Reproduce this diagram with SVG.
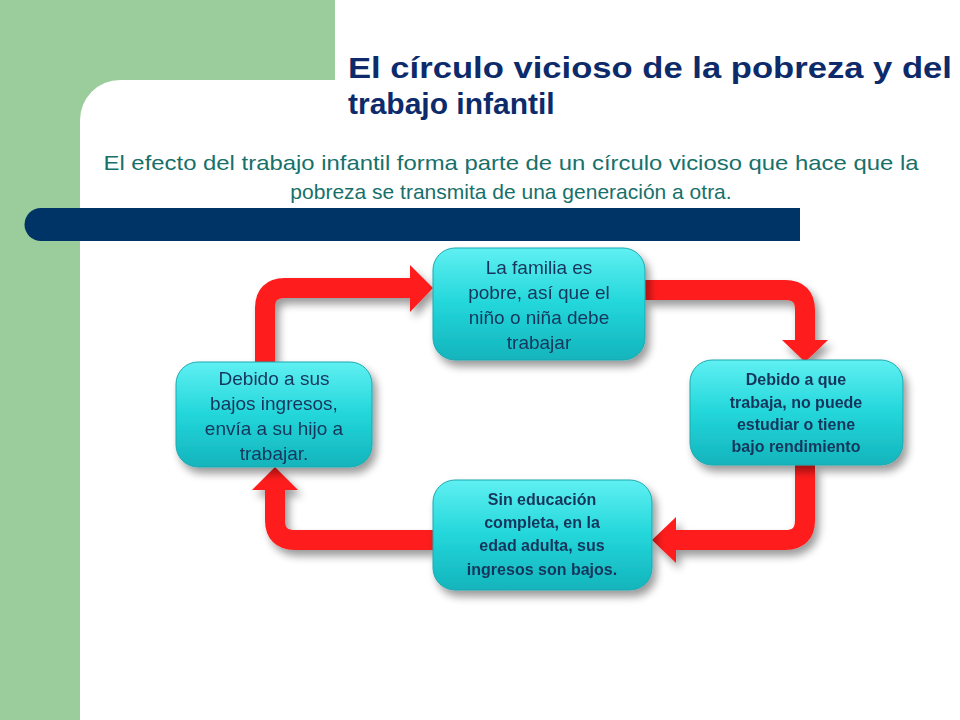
<svg xmlns="http://www.w3.org/2000/svg" width="960" height="720" viewBox="0 0 960 720">
<defs>
<linearGradient id="cy" x1="0" y1="0" x2="0" y2="1"><stop offset="0" stop-color="#5ff0f2"/><stop offset="0.5" stop-color="#22d6da"/><stop offset="1" stop-color="#14b4bc"/></linearGradient>
<filter id="sh" x="-20%" y="-20%" width="150%" height="150%"><feGaussianBlur in="SourceAlpha" stdDeviation="4"/><feOffset dx="4" dy="6"/><feComponentTransfer><feFuncA type="linear" slope="0.4"/></feComponentTransfer><feMerge><feMergeNode/><feMergeNode in="SourceGraphic"/></feMerge></filter>
</defs>
<style>
.box{fill:url(#cy);stroke:#1aa9b0;stroke-width:1}
.t{font-family:"Liberation Sans",Arial,sans-serif;fill:#16365c;text-anchor:middle}
.r{font-size:19px}
.b{font-size:16px;font-weight:bold}
.ar{fill:none;stroke:#ff1a1a;stroke-width:20;stroke-linejoin:round}
.hd{fill:#ff1a1a}
</style>
<rect width="960" height="720" fill="#ffffff"/>
<rect x="0" y="0" width="80" height="720" fill="#9bcc9b"/>
<rect x="0" y="0" width="335" height="80" fill="#9bcc9b"/>
<path d="M80,80 L120,80 A40,40 0 0 0 80,120 Z" fill="#9bcc9b"/>
<text x="348" y="78" font-family="Liberation Sans,Arial,sans-serif" font-weight="bold" font-size="30" fill="#0d2b6b" textLength="604" lengthAdjust="spacingAndGlyphs">El círculo vicioso de la pobreza y del</text>
<text x="348" y="114" font-family="Liberation Sans,Arial,sans-serif" font-weight="bold" font-size="30" fill="#0d2b6b">trabajo infantil</text>
<text x="511" y="170" font-family="Liberation Sans,Arial,sans-serif" font-size="21" fill="#17706a" text-anchor="middle" textLength="815" lengthAdjust="spacingAndGlyphs">El efecto del trabajo infantil forma parte de un círculo vicioso que hace que la</text>
<text x="511" y="199" font-family="Liberation Sans,Arial,sans-serif" font-size="21" fill="#17706a" text-anchor="middle">pobreza se transmita de una generación a otra.</text>
<path d="M41,208 L800,208 L800,241 L41,241 A16.5,16.5 0 0 1 41,208 Z" fill="#003366"/>
<g id="connectors" filter="url(#sh)">
<path class="ar" d="M265,362 L265,308 Q265,288 285,288 L412,288"/>
<polygon class="hd" points="410,265 433,288 410,312"/>
<path class="ar" d="M645,290 L785,290 Q805,290 805,310 L805,342"/>
<polygon class="hd" points="782,340 805,362 828,340"/>
<path class="ar" d="M805,465 L805,520 Q805,540 785,540 L674,540"/>
<polygon class="hd" points="676,517 652,540 676,563"/>
<path class="ar" d="M433,540 L295,540 Q275,540 275,520 L275,488"/>
<polygon class="hd" points="252,490 275,467 298,490"/>
</g>
<g id="n1" filter="url(#sh)"><rect class="box" x="433" y="248" width="212" height="112" rx="22"/>
<text class="t r" x="539" y="274">La familia es</text><text class="t r" x="539" y="299">pobre, así que el</text><text class="t r" x="539" y="324">niño o niña debe</text><text class="t r" x="539" y="349">trabajar</text></g>
<g id="n2" filter="url(#sh)"><rect class="box" x="690" y="360" width="213" height="105" rx="22"/>
<text class="t b" x="796" y="385">Debido a que</text><text class="t b" x="796" y="408">trabaja, no puede</text><text class="t b" x="796" y="430">estudiar o tiene</text><text class="t b" x="796" y="452">bajo rendimiento</text></g>
<g id="n3" filter="url(#sh)"><rect class="box" x="433" y="480" width="219" height="110" rx="22"/>
<text class="t b" x="542" y="505">Sin educación</text><text class="t b" x="542" y="528">completa, en la</text><text class="t b" x="542" y="551">edad adulta, sus</text><text class="t b" x="542" y="575">ingresos son bajos.</text></g>
<g id="n4" filter="url(#sh)"><rect class="box" x="176" y="362" width="196" height="105" rx="22"/>
<text class="t r" x="274" y="385">Debido a sus</text><text class="t r" x="274" y="410">bajos ingresos,</text><text class="t r" x="274" y="435">envía a su hijo a</text><text class="t r" x="274" y="460">trabajar.</text></g>
</svg>
